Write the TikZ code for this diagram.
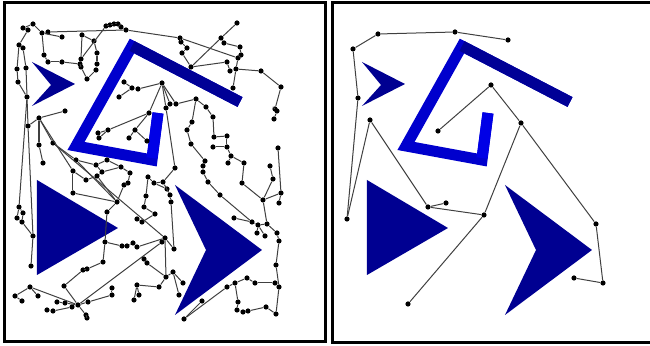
\documentclass[tikz,border=0pt]{standalone}

\definecolor{obstnavy}{RGB}{0,0,145}
\definecolor{bandnavy}{RGB}{0,0,150}
\definecolor{bandblue}{RGB}{0,0,205}
\definecolor{bandbright}{RGB}{0,0,230}

\tikzset{
  vertex/.style={circle, fill=black, inner sep=0pt, minimum size=2.6pt},
  link/.style={black!75, line width=0.5pt},
  frame/.style={line width=1.5pt},
  band/.style={line width=5.5pt, line join=miter},
}

\begin{document}
\begin{tikzpicture}[x=0.5pt, y=-0.5pt]
\useasboundingbox (0,0) rectangle (650,346);

% obstacles, same in both panels
\foreach \dx in {0,330} {
  \begin{scope}[shift={(\dx,0)}]
    \fill[obstnavy] (32,62) -- (75,84) -- (32,106) -- (51,85) -- cycle;
    \fill[obstnavy] (37,180) -- (118,228) -- (37,275) -- cycle;
    \fill[obstnavy] (175,185) -- (262,250) -- (175,315) -- (206,250) -- cycle;
    \draw[band, bandblue] (158,113) -- (152,160) -- (76,146) -- (132,46) -- (240,102);
    \draw[band, bandbright] (158,113) -- (152,158);
    \draw[band, bandnavy] (132,46) -- (240,102);
  \end{scope}
}

% left: dense roadmap
\foreach \n/\px/\py in {m1/23/28, m2/28/30, m3/33/24, m4/42/33, m5/48/32, m6/62/37, m7/19/45, m8/23/48,
    m9/44/55, m10/48/62, m11/62/62, m12/17/69, m13/26/68, m14/18/82, m15/27/97, m16/82/35, m17/94/41,
    m18/97/53, m19/81/59, m20/80/64, m21/81/67, m22/97/64, m23/96/70, m24/87/79, m25/106/26, m26/110/25,
    m27/114/24, m28/118/24, m29/121/27, m30/126/30, m31/65/111, m32/39/118, m33/28/126, m34/39/145,
    m35/53/143, m36/43/163, m37/76/160, m38/73/171, m39/96/165, m40/107/160, m41/102/172, m42/121/167,
    m43/124/82, m44/132/88, m45/138/89, m46/119/97, m47/162/83, m48/149/113, m49/166/108, m50/108/130,
    m51/98/133, m52/99/138, m53/135/130, m54/129/138, m55/147/141, m56/180/38, m57/181/42, m58/187/48,
    m59/182/53, m60/221/38, m61/237/23, m62/224/43, m63/240/47, m64/241/55, m65/238/58, m66/227/62,
    m67/230/71, m68/236/69, m69/261/71, m70/191/67, m71/233/88, m72/281/87, m73/275/109, m74/277/111,
    m75/274/119, m76/170/104, m77/176/104, m78/196/99, m79/206/107, m80/213/117, m81/192/122,
    m82/187/130, m83/191/144, m84/214/137, m85/227/136, m86/213/147, m87/227/147, m88/231/156,
    m89/228/163, m90/244/163, m91/278/148, m92/270/166, m93/205/161, m94/203/166, m95/175/168,
    m97/86/180, m98/97/176, m100/130/173, m101/128/183, m102/124/185, m103/73/193, m104/117/202,
    m105/107/212, m106/148/177, m107/154/183, m108/163/182, m109/167/189, m110/146/196, m111/144/207,
    m112/155/214, m113/137/219, m114/142/222, m115/19/207, m116/17/218, m117/22/222, m118/23/213,
    m119/33/236, m120/31/266, m121/105/242, m122/122/246, m123/127/246, m124/133/243, m125/137/247,
    m126/165/238, m127/162/242, m128/103/262, m129/87/269, m130/83/270, m131/144/259, m132/147/263,
    m133/166/277, m134/159/287, m135/137/285, m136/134/300, m137/139/295, m138/30/287, m139/15/296,
    m140/22/301, m141/38/296, m142/64/286, m143/57/302, m144/65/303, m145/78/305, m146/88/302,
    m147/112/288, m148/112/295, m149/47/310, m150/53/311, m151/72/307, m152/86/315, m153/87/318,
    m154/170/195, m155/171/202, m156/203/172, m157/208/182, m158/220/195, m159/242/183, m160/263/200,
    m161/273/179, m162/281/193, m163/279/203, m164/234/218, m165/252/222, m166/258/225, m167/267/224,
    m168/257/233, m169/265/236, m170/277/233, m171/279/241, m172/174/249, m173/276/265, m174/279/287,
    m175/275/283, m176/255/283, m177/247/278, m178/235/283, m179/227/287, m180/238/302, m181/237/310,
    m182/243/312, m183/248/311, m184/266/307, m185/276/314, m186/202/301, m187/184/319, m189/173/272,
    m190/183/283, m191/179/295}
  \node[vertex] (\n) at (\px,\py) {};

\foreach \a/\b in {m3/m1, m1/m2, m3/m4, m4/m5, m5/m30, m30/m56, m4/m6, m4/m9, m9/m10, m10/m11,
    m7/m2, m7/m8, m7/m12, m8/m13, m12/m14, m14/m15, m13/m15, m15/m33, m33/m32, m32/m31,
    m16/m17, m17/m18, m16/m19, m18/m22, m22/m23, m19/m20, m20/m11, m20/m21, m21/m24, m23/m24, m19/m25,
    m25/m26, m26/m27, m27/m28, m28/m29, m29/m30,
    m32/m34, m32/m35, m34/m36, m35/m37, m32/m38, m15/m115, m33/m119,
    m37/m39, m39/m40, m39/m41, m41/m42, m40/m42, m35/m126, m37/m104,
    m43/m44, m44/m45, m46/m44, m45/m47, m47/m48, m47/m49, m47/m76, m47/m77, m48/m50, m50/m51,
    m50/m52, m48/m53, m53/m54, m53/m55,
    m56/m57, m57/m58, m58/m59, m59/m70, m56/m65, m70/m60, m60/m61, m70/m66, m60/m62, m62/m63,
    m63/m64, m64/m65, m65/m68, m66/m67, m67/m68, m68/m71, m68/m69, m69/m72, m72/m73, m73/m74, m74/m75,
    m77/m78, m78/m79, m79/m80, m80/m84, m78/m81, m81/m82, m82/m83, m83/m93, m84/m85, m85/m87,
    m87/m86, m87/m88, m88/m89, m88/m90, m90/m159, m91/m162, m92/m161, m93/m94, m94/m156, m49/m95, m95/m108,
    m38/m103, m103/m104, m104/m105, m104/m98, m98/m41, m97/m98, m97/m38,
    m100/m101, m101/m102, m100/m42, m102/m104,
    m106/m107, m107/m108, m107/m109, m110/m111, m111/m112, m112/m114, m113/m114, m110/m106,
    m108/m154, m154/m155,
    m115/m118, m118/m117, m115/m116, m116/m117, m117/m119, m119/m120,
    m121/m122, m122/m123, m123/m124, m124/m125, m125/m126, m121/m128, m128/m129, m129/m130,
    m126/m127, m126/m172, m126/m133, m127/m145, m131/m132, m132/m133, m133/m134, m134/m135,
    m135/m136, m135/m137, m105/m121,
    m138/m139, m139/m140, m138/m141, m138/m145, m142/m145, m143/m144, m144/m145, m145/m146,
    m146/m148, m148/m147, m145/m152, m152/m153, m151/m145, m149/m150, m150/m151, m130/m142,
    m156/m157, m157/m158, m158/m165, m159/m160, m160/m161, m160/m162, m160/m167, m164/m165,
    m165/m166, m166/m167, m166/m168, m166/m169, m167/m170, m170/m171, m171/m173, m173/m174,
    m174/m175, m175/m176, m176/m177, m177/m178, m178/m179, m178/m180, m179/m187, m180/m181,
    m181/m182, m182/m183, m183/m184, m184/m185, m186/m187, m133/m189, m189/m190, m189/m191,
    m162/m163, m155/m172, m174/m185}
  \draw[link] (\a) -- (\b);

% right: the reduced tree
\foreach \n/\px/\py in {rA/378/34, rB/455/32, rC/353/49, rD/358/98, rE/370/120, rF/491/85,
    rG/438/131, rH/508/40, rI/521/123, rJ/347/219, rK/428/207, rL/446/203, rM/484/215,
    rN/408/304, rO/596/224, rP/603/283, rQ/574/278}
  \node[vertex] (\n) at (\px,\py) {};

\foreach \a/\b in {rA/rB, rA/rC, rC/rD, rB/rH, rD/rJ, rE/rJ, rE/rK, rK/rL, rK/rM, rM/rN,
    rM/rI, rI/rF, rF/rG, rI/rO, rO/rP, rP/rQ}
  \draw[link] (\a) -- (\b);

% panel frames
\draw[frame] (4.5,2.3) rectangle (325.5,342);
\draw[frame] (656,2.3) -- (332.3,2.3) -- (332.3,343) -- (656,343);

\end{tikzpicture}
\end{document}
